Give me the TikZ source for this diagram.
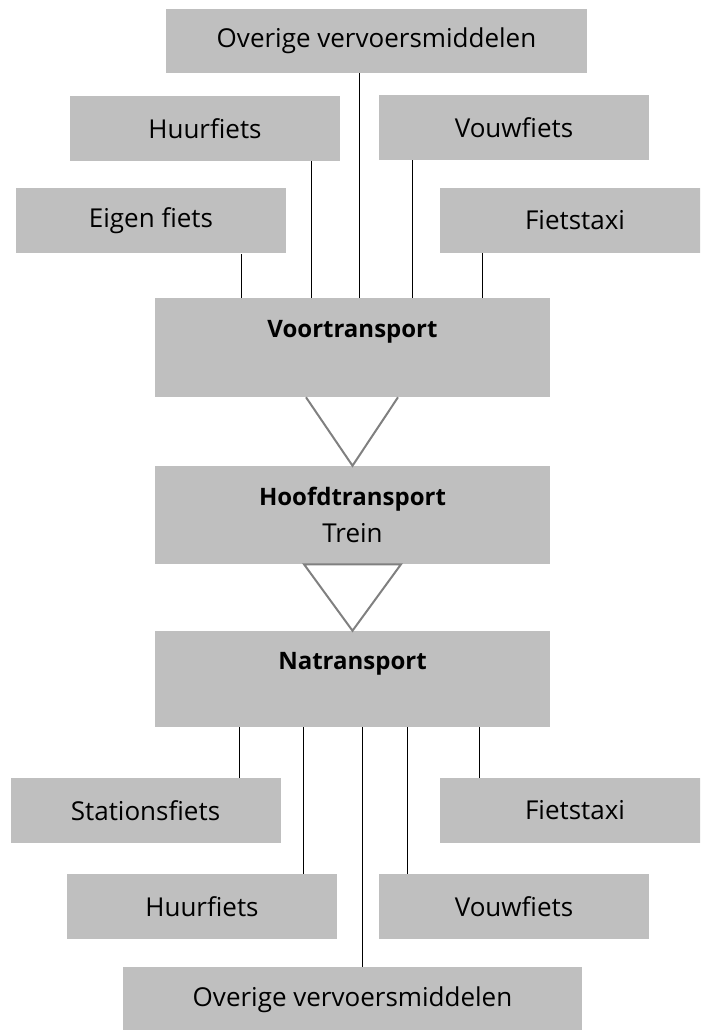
\documentclass[tikz,border=0pt]{standalone}
\usepackage{fontspec}
\setmainfont{Open Sans}[Ligatures={NoCommon,NoContextual}]
\usetikzlibrary{positioning}

\definecolor{vakgrijs}{RGB}{191,191,191}
\definecolor{trechtergrijs}{RGB}{128,128,128}

\begin{document}
\begin{tikzpicture}[x=0.75pt, y=-0.75pt,
    vak/.style={rectangle, fill=vakgrijs, inner sep=0pt, font=\fontsize{19.5}{27.75}\selectfont},
    klein/.style={vak, minimum width=202.5pt, minimum height=48.75pt},
    groot/.style={vak, minimum width=296.25pt},
    kop/.style={inner sep=0pt, anchor=base, font=\fontsize{18}{27.75}\selectfont\bfseries},
    lijn/.style={black, line width=0.75pt},
    trechter/.style={draw=trechtergrijs, line width=1.5pt}]
  \clip (0,0) rectangle (700,1030);

  % voortransport
  \node[vak, minimum width=315.75pt, minimum height=48pt] (voor_ov) at (376.5,41) {Overige vervoersmiddelen};
  \node[klein] (voor_huur)  at (205,128.5) {Huurfiets};
  \node[klein] (voor_vouw)  at (514,127.5) {Vouwfiets};
  \node[klein] (voor_eigen) at (151,221)   {Eigen fiets};
  \node[klein] (voor_taxi)  at (575,220.5) {Fietstaxi};
  \node[groot, minimum height=74.25pt] (voor) at (352.5,347.5) {};
  \node[kop] (voor_kop) at (352.5,337) {Voortransport};

  % hoofdtransport
  \node[groot, minimum height=73.5pt, align=center] (hoofd) at (352.5,515)
    {{\fontsize{18}{27.75}\selectfont\bfseries Hoofdtransport}\\Trein};

  % natransport
  \node[groot, minimum height=72pt] (na) at (352.5,679) {};
  \node[kop] (na_kop) at (352.5,669) {Natransport};
  \node[klein] (na_station) at (145.5,810.5) {Stationsfiets};
  \node[klein] (na_taxi)    at (575,810.5)   {Fietstaxi};
  \node[klein] (na_huur)    at (202,906.5)   {Huurfiets};
  \node[klein] (na_vouw)    at (514,906.5)   {Vouwfiets};
  \node[vak, minimum width=344.25pt, minimum height=48.75pt] (na_ov) at (352.5,999.5) {Overige vervoersmiddelen};

  \draw[lijn] (241.5,0 |- voor_eigen.south) -- (241.5,0 |- voor.north);
  \draw[lijn] (311,0 |- voor_huur.south)    -- (311,0 |- voor.north);
  \draw[lijn] (359,0 |- voor_ov.south)      -- (359,0 |- voor.north);
  \draw[lijn] (412.5,0 |- voor_vouw.south)  -- (412.5,0 |- voor.north);
  \draw[lijn] (482,0 |- voor_taxi.south)    -- (482,0 |- voor.north);

  \draw[lijn] (239,0 |- na.south) -- (239,0 |- na_station.north);
  \draw[lijn] (303,0 |- na.south) -- (303,0 |- na_huur.north);
  \draw[lijn] (362,0 |- na.south) -- (362,0 |- na_ov.north);
  \draw[lijn] (407,0 |- na.south) -- (407,0 |- na_vouw.north);
  \draw[lijn] (479,0 |- na.south) -- (479,0 |- na_taxi.north);

  \draw[trechter] (306,0 |- voor.south) -- (hoofd.north) -- (398,0 |- voor.south);
  \draw[trechter] (304,0 |- hoofd.south) -- (na.north) -- (401,0 |- hoofd.south) -- cycle;
\end{tikzpicture}
\end{document}
